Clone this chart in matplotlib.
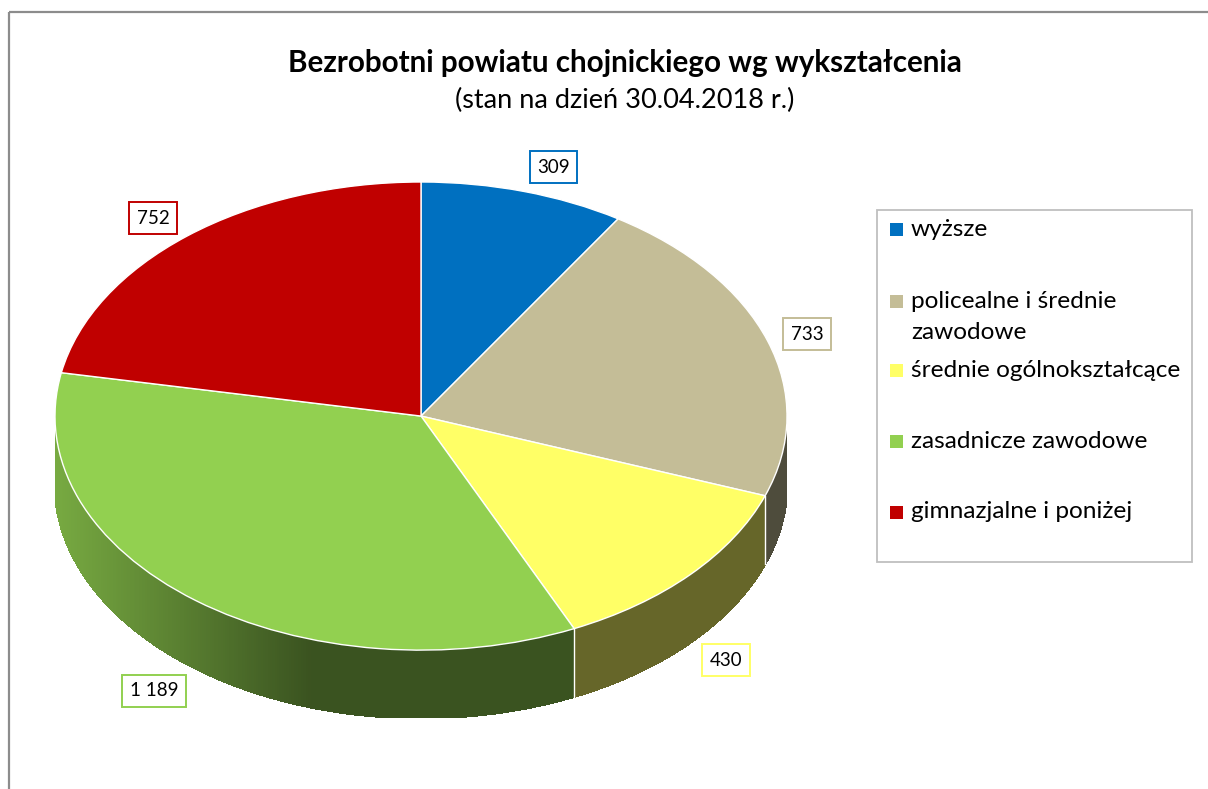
import numpy as np
import matplotlib
matplotlib.use("Agg")
import matplotlib.pyplot as plt
from matplotlib.patches import Polygon, Rectangle
import matplotlib.colors as mcolors

categories = ["wyższe", "policealne i średnie\nzawodowe", "średnie ogólnokształcące",
              "zasadnicze zawodowe", "gimnazjalne i poniżej"]
values = [309, 733, 430, 1189, 752]
colors = ["#0070c0", "#c4bd97", "#ffff66", "#92d050", "#c00000"]
title = "Bezrobotni powiatu chojnickiego wg wykształcenia"
subtitle = "(stan na dzień 30.04.2018 r.)"

plt.rcParams['font.family'] = ['Lato', 'DejaVu Sans']

W, H = 1208, 789
fig = plt.figure(figsize=(W / 100, H / 100), dpi=100)
fig.patch.set_facecolor("white")

# overlay axes in pixel coordinates
ov = fig.add_axes([0, 0, 1, 1], zorder=5)
ov.set_xlim(0, W)
ov.set_ylim(H, 0)
ov.axis('off')
ov.patch.set_alpha(0)

# outer frame (left and top visible)
ov.add_patch(Rectangle((9, 12), W + 20, H + 20, fill=False, edgecolor="#8c8c8c", lw=1.6))

# pie axes
DEPTH = 0.29
x0, x1, ytop, ybot = 55, 787, 182, 718
pa = fig.add_axes([x0 / W, (H - ybot) / H, (x1 - x0) / W, (ybot - ytop) / H], zorder=2)
wedges, _ = pa.pie(values, colors=colors, startangle=90, counterclock=False,
                   wedgeprops=dict(edgecolor="white", linewidth=1.0))
for w in wedges:
    w.set_zorder(3)
pa.set_aspect('auto')
pa.set_xlim(-1, 1)
pa.set_ylim(-1 - DEPTH, 1)
pa.axis('off')


def shade(x):
    return np.interp(x, [-1.0, -0.3, 1.0], [0.82, 0.40, 0.40])


boundaries = []
for w, c in zip(wedges, colors):
    rgb = np.array(mcolors.to_rgb(c))
    t1, t2 = w.theta1, w.theta2
    n = max(int((t2 - t1) / 0.4), 2)
    ts = np.linspace(t1, t2, n + 1)
    for a, b in zip(ts[:-1], ts[1:]):
        mid = np.deg2rad((a + b) / 2)
        if np.sin(mid) >= 0:
            continue
        ra, rb = np.deg2rad(a), np.deg2rad(b)
        xa, ya, xb, yb = np.cos(ra), np.sin(ra), np.cos(rb), np.sin(rb)
        col = np.clip(rgb * shade(np.cos(mid)), 0, 1)
        pa.add_patch(Polygon([(xa, ya), (xb, yb), (xb, yb - DEPTH), (xa, ya - DEPTH)],
                             closed=True, facecolor=col, edgecolor=col, lw=1.2,
                             antialiased=False, zorder=1))
    boundaries.append(t1)

for t in boundaries:
    r = np.deg2rad(t)
    if np.sin(r) < -0.01:
        pa.plot([np.cos(r), np.cos(r)], [np.sin(r), np.sin(r) - DEPTH], color="white", lw=1.0, zorder=2)

# title
ov.text(624.5, 63, title, ha="center", va="center", fontsize=21.3, fontweight="bold", color="black")
ov.text(625, 100, subtitle, ha="center", va="center", fontsize=19.5, color="black")

# data labels
label_pos = [(553.5, 167), (807, 334), (726, 660), (154, 691), (153, 218)]
for v, c, (lx, ly) in zip(values, colors, label_pos):
    txt = f"{v:,}".replace(",", " ")
    ov.text(lx, ly, txt, ha="center", va="center", fontsize=13.5, color="black",
            bbox=dict(boxstyle="square,pad=0.4", facecolor="white", edgecolor=c, lw=1.4))

# legend
ov.add_patch(Rectangle((877, 210), 315, 352, facecolor="white", edgecolor="#bfbfbf", lw=1.3))
row_y = [229, 301, 370, 441, 512]
for lab, c, y in zip(categories, colors, row_y):
    ov.add_patch(Rectangle((890, y - 6.5), 13, 13, facecolor=c, edgecolor="none"))
    for k, line in enumerate(lab.split("\n")):
        ov.text(911, y + 31 * k, line, ha="left", va="center", fontsize=17.6, color="black")

fig.savefig("out.png", dpi=100, facecolor="white")
